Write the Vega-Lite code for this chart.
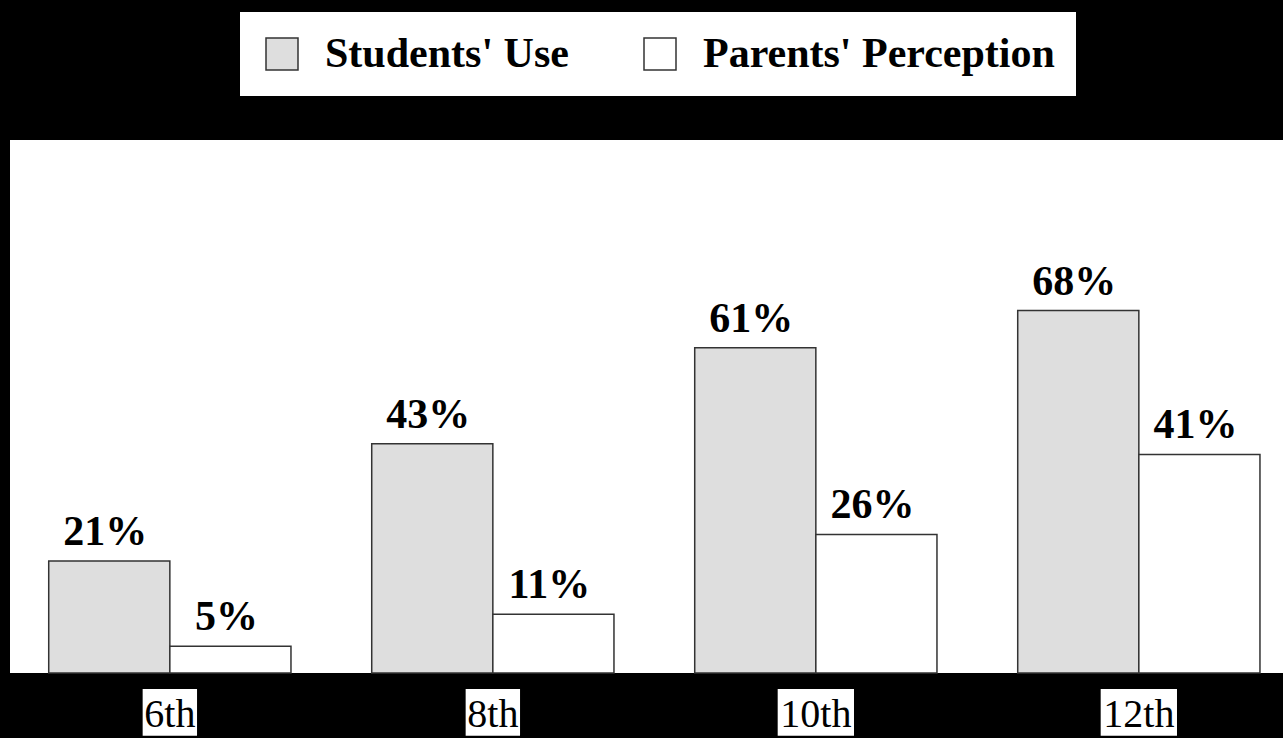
{
  "$schema": "https://vega.github.io/schema/vega-lite/v6.json",
  "width": 1273,
  "height": 533,
  "autosize": {"type": "none"},
  "padding": {"left": 10, "top": 140, "right": 0, "bottom": 65},
  "background": "black",
  "view": {"fill": "white", "stroke": null},
  "config": {"font": "Liberation Serif"},
  "datasets": {
    "bars": [
      {"grade": "6th", "group": "Students' Use", "value": 0.21},
      {"grade": "6th", "group": "Parents' Perception", "value": 0.05},
      {"grade": "8th", "group": "Students' Use", "value": 0.43},
      {"grade": "8th", "group": "Parents' Perception", "value": 0.11},
      {"grade": "10th", "group": "Students' Use", "value": 0.61},
      {"grade": "10th", "group": "Parents' Perception", "value": 0.26},
      {"grade": "12th", "group": "Students' Use", "value": 0.68},
      {"grade": "12th", "group": "Parents' Perception", "value": 0.41}
    ],
    "short": [{"grade": "6th"}, {"grade": "8th"}],
    "long": [{"grade": "10th"}, {"grade": "12th"}],
    "grades": [{"grade": "6th"}, {"grade": "8th"}, {"grade": "10th"}, {"grade": "12th"}]
  },
  "layer": [
    {
      "data": {"name": "bars"},
      "mark": {"type": "bar", "stroke": "#333333", "strokeWidth": 1.5},
      "encoding": {
        "x": {"field": "grade", "type": "nominal", "sort": ["6th", "8th", "10th", "12th"],
              "scale": {"paddingInner": 0.25, "paddingOuter": 0.0956, "align": 0.627}, "axis": null},
        "xOffset": {"field": "group", "type": "nominal", "sort": ["Students' Use", "Parents' Perception"],
                    "scale": {"paddingInner": 0, "paddingOuter": 0}},
        "y": {"field": "value", "type": "quantitative", "scale": {"domain": [0, 1], "nice": false}, "axis": null},
        "color": {"field": "group", "type": "nominal",
                  "scale": {"domain": ["Students' Use", "Parents' Perception"], "range": ["#dedede", "#ffffff"]},
                  "legend": {"title": null, "orient": "none", "legendX": 230, "legendY": -128, "direction": "horizontal",
                             "fillColor": "white", "padding": 21, "symbolType": "square", "symbolSize": 1024,
                             "symbolStrokeColor": "#333333", "symbolStrokeWidth": 1.5, "symbolOpacity": 1,
                             "labelFont": "Liberation Serif", "labelFontSize": 42, "labelFontWeight": "bold",
                             "labelColor": "black", "labelOffset": 22, "columnPadding": 70, "labelLimit": 0}}
      }
    },
    {
      "data": {"name": "bars"},
      "mark": {"type": "text", "dy": -16, "dx": -4, "baseline": "alphabetic", "font": "Liberation Serif",
               "fontSize": 42, "fontWeight": "bold", "color": "black"},
      "encoding": {
        "x": {"field": "grade", "type": "nominal", "sort": ["6th", "8th", "10th", "12th"]},
        "xOffset": {"field": "group", "type": "nominal", "sort": ["Students' Use", "Parents' Perception"]},
        "y": {"field": "value", "type": "quantitative"},
        "text": {"field": "value", "type": "quantitative", "format": ".0%"}
      }
    },
    {
      "data": {"name": "short"},
      "mark": {"type": "bar", "color": "white", "width": {"band": 0.2245}},
      "encoding": {
        "x": {"field": "grade", "type": "nominal", "sort": ["6th", "8th", "10th", "12th"]},
        "y": {"datum": -0.03},
        "y2": {"datum": -0.1176}
      }
    },
    {
      "data": {"name": "long"},
      "mark": {"type": "bar", "color": "white", "width": {"band": 0.315}},
      "encoding": {
        "x": {"field": "grade", "type": "nominal", "sort": ["6th", "8th", "10th", "12th"]},
        "y": {"datum": -0.03},
        "y2": {"datum": -0.1176}
      }
    },
    {
      "data": {"name": "grades"},
      "mark": {"type": "text", "baseline": "alphabetic", "font": "Liberation Serif", "fontSize": 40,
               "fontWeight": "normal", "color": "black"},
      "encoding": {
        "x": {"field": "grade", "type": "nominal", "sort": ["6th", "8th", "10th", "12th"]},
        "y": {"datum": -0.1008},
        "text": {"field": "grade", "type": "nominal"}
      }
    }
  ]
}
